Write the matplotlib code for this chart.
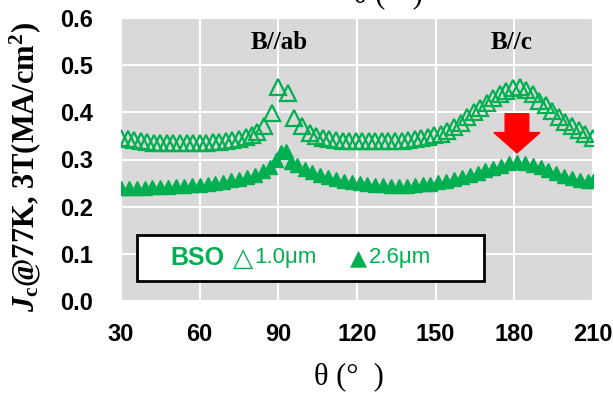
import matplotlib
matplotlib.use("Agg")
import matplotlib.pyplot as plt
from matplotlib.patches import Rectangle

plt.rcParams['mathtext.fontset'] = 'custom'
plt.rcParams['mathtext.rm'] = 'Liberation Serif:bold'
plt.rcParams['mathtext.it'] = 'Liberation Serif:italic:bold'
plt.rcParams['mathtext.bf'] = 'Liberation Serif:bold'

# 1.0 um film (open triangles)
theta_thin = [30, 32.5, 35, 37.5, 40, 42.5, 45, 47.5, 50, 52.5, 55, 57.5, 60, 62.5,
              65, 67.5, 70, 72.5, 75, 77.5, 80, 82, 84.5, 87.5, 90, 93.5, 96, 99,
              102, 104.5, 107, 109.5, 112, 114.5, 117, 119.5, 122, 124.5, 127, 129.5,
              132, 134.5, 137, 139.5, 142, 144.5, 147, 149.5, 152, 154.5, 157, 159.5,
              162, 164.5, 167, 169.5, 172, 174.5, 177, 179.5, 182, 184.5, 187, 189.5,
              192, 194.5, 197, 199.5, 202, 204.5, 207, 210]
jc_thin = [0.345, 0.343, 0.341, 0.339, 0.337, 0.336, 0.335, 0.334, 0.334, 0.334,
           0.334, 0.335, 0.335, 0.336, 0.337, 0.338, 0.339, 0.341, 0.343, 0.347,
           0.352, 0.358, 0.372, 0.398, 0.453, 0.440, 0.387, 0.370, 0.357, 0.350,
           0.346, 0.343, 0.341, 0.340, 0.339, 0.339, 0.339, 0.339, 0.339, 0.339,
           0.339, 0.340, 0.340, 0.341, 0.343, 0.345, 0.348, 0.351, 0.355, 0.360,
           0.368, 0.378, 0.390, 0.400, 0.410, 0.420, 0.430, 0.438, 0.446, 0.452,
           0.453, 0.448, 0.438, 0.425, 0.415, 0.402, 0.390, 0.380, 0.372, 0.363,
           0.355, 0.346]

# 2.6 um film (filled triangles)
theta_thick = [30, 33, 36, 39, 42, 45, 48, 51, 54, 57, 60, 63, 66, 69, 72, 75, 78,
               81, 84, 87, 89, 91, 93, 95, 97, 100, 103, 106, 109, 112, 115, 118,
               121, 124, 127, 130, 133, 136, 139, 142, 145, 148, 151, 154, 157, 160,
               163, 166, 169, 172, 175, 178, 181, 184, 187, 190, 193, 196, 199, 202,
               205, 208, 210]
jc_thick = [0.240, 0.240, 0.240, 0.240, 0.241, 0.241, 0.242, 0.243, 0.244, 0.245,
            0.246, 0.248, 0.250, 0.253, 0.256, 0.259, 0.263, 0.268, 0.275, 0.285,
            0.300, 0.315, 0.318, 0.295, 0.288, 0.280, 0.273, 0.267, 0.262, 0.258,
            0.255, 0.252, 0.250, 0.248, 0.246, 0.245, 0.244, 0.244, 0.244, 0.245,
            0.247, 0.249, 0.252, 0.255, 0.259, 0.263, 0.267, 0.272, 0.277, 0.282,
            0.287, 0.292, 0.295, 0.293, 0.289, 0.284, 0.278, 0.272, 0.266, 0.261,
            0.257, 0.255, 0.254]

xticks = [30, 60, 90, 120, 150, 180, 210]
yticks = [0.0, 0.1, 0.2, 0.3, 0.4, 0.5, 0.6]

green = '#00b050'
sans = ['Liberation Sans', 'DejaVu Sans']
serif = ['Liberation Serif', 'DejaVu Serif']

fig = plt.figure(figsize=(6.13, 3.97), dpi=100)
ax = fig.add_axes([121 / 613, 1 - 301 / 397, 472 / 613, 283 / 397])
ax.set_facecolor('#d9d9d9')
ax.grid(True, color='white', linewidth=1.5)
ax.set_axisbelow(True)
for s in ax.spines.values():
    s.set_visible(False)

ax.plot(theta_thin, jc_thin, linestyle='none', marker='^', markersize=11,
        markerfacecolor='none', markeredgecolor=green, markeredgewidth=1.6)
ax.plot(theta_thick, jc_thick, linestyle='none', marker='^', markersize=10,
        color=green)

ax.set_xlim(30, 210)
ax.set_ylim(0, 0.6)
ax.set_xticks(xticks)
ax.set_yticks(yticks)
ax.set_yticklabels(['%.1f' % v for v in yticks])
ax.tick_params(axis='x', length=0, pad=16)
ax.tick_params(axis='y', length=0, pad=20)
for lab in ax.get_xticklabels() + ax.get_yticklabels():
    lab.set_fontfamily(sans)
    lab.set_fontweight('bold')
    lab.set_fontsize(17)

fig.text(25 / 613, 1 - 167 / 397, r'$J_{\rm c}$@77K, 3T(MA/cm$^{2}$)',
         family=serif, fontweight='bold', fontsize=22, rotation=90,
         ha='center', va='center')
fig.text(349 / 613, 1 - 377 / 397, u'\u03b8 (\u00b0  )', family=serif,
         fontsize=22, ha='center', va='center')

# partial label of panel above
fig.text(388 / 613, 0.995, u'\u03b8 (\u00b0  )', family=serif, fontsize=22,
         ha='center', va='baseline')

ax.text(90.5, 0.547, 'B//ab', family=serif, fontweight='bold', fontsize=18,
        ha='center', va='center')
ax.text(179, 0.547, 'B//c', family=serif, fontweight='bold', fontsize=18,
        ha='center', va='center')

ax.arrow(181, 0.397, 0, -0.083, width=9, head_width=17.5, head_length=0.043,
         length_includes_head=True, color='#ff0000', zorder=5)

# legend box
ax.add_patch(Rectangle((0.034, 0.071), 0.735, 0.163, transform=ax.transAxes,
                       facecolor='white', edgecolor='black', linewidth=2, zorder=6))
ax.text(0.104, 0.152, 'BSO', transform=ax.transAxes, color=green, family=sans,
        fontweight='bold', fontsize=18, va='center', zorder=7)
ax.text(0.238, 0.148, u'\u25b3', transform=ax.transAxes, color=green,
        family='DejaVu Sans', fontsize=19, va='center', zorder=7)
ax.text(0.282, 0.152, u'1.0\u03bcm', transform=ax.transAxes, color=green,
        family=sans, fontsize=16, va='center', zorder=7)
ax.text(0.484, 0.150, u'\u25b2', transform=ax.transAxes, color=green,
        family='DejaVu Sans', fontsize=16, va='center', zorder=7)
ax.text(0.526, 0.152, u'2.6\u03bcm', transform=ax.transAxes, color=green,
        family=sans, fontsize=16, va='center', zorder=7)

fig.savefig('out.png', dpi=100)
